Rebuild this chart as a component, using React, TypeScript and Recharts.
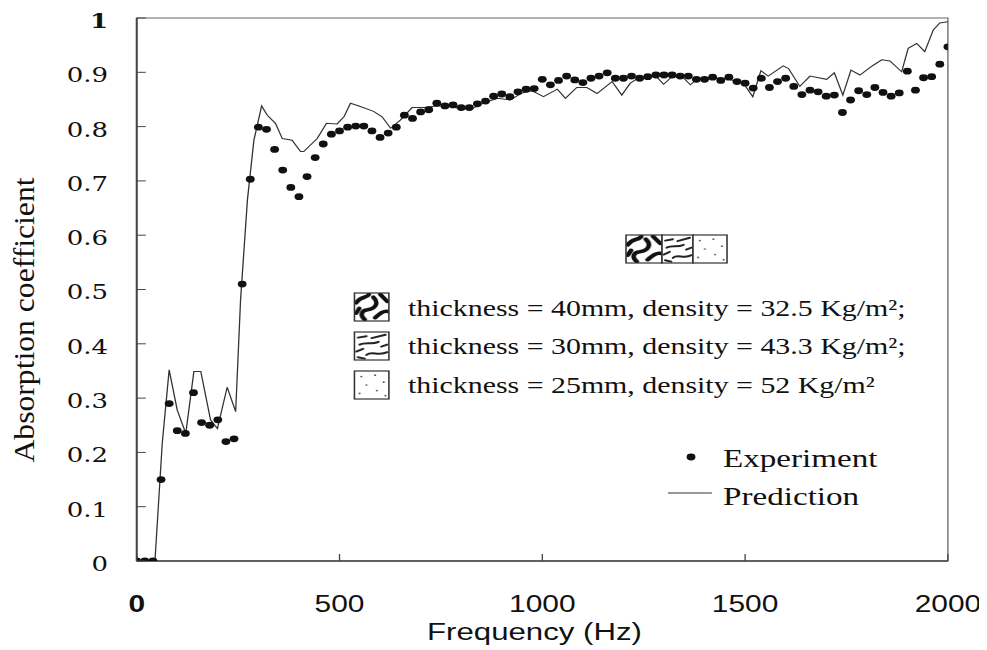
import React from 'react';
import { ComposedChart, XAxis, YAxis, Scatter, Line, ReferenceArea } from 'recharts';

// Experiment (measured) absorption coefficient, every 20 Hz
const EXP_FREQ = [
  0, 20, 40, 60, 80, 100, 120, 140, 160, 180, 200, 220, 240, 260, 280, 300, 320, 340, 360, 380,
  400, 420, 440, 460, 480, 500, 520, 540, 560, 580, 600, 620, 640, 660, 680, 700, 720, 740, 760, 780,
  800, 820, 840, 860, 880, 900, 920, 940, 960, 980, 1000, 1020, 1040, 1060, 1080, 1100, 1120, 1140, 1160, 1180,
  1200, 1220, 1240, 1260, 1280, 1300, 1320, 1340, 1360, 1380, 1400, 1420, 1440, 1460, 1480, 1500, 1520, 1540, 1560, 1580,
  1600, 1620, 1640, 1660, 1680, 1700, 1720, 1740, 1760, 1780, 1800, 1820, 1840, 1860, 1880, 1900, 1920, 1940, 1960, 1980,
  2000,
];
const EXP_VALUES = [
  0, 0, 0, 0.15, 0.29, 0.24, 0.235, 0.31, 0.255, 0.25, 0.26, 0.22, 0.225, 0.51, 0.703, 0.799, 0.795, 0.758, 0.72, 0.688,
  0.671, 0.708, 0.743, 0.768, 0.786, 0.792, 0.799, 0.801, 0.801, 0.792, 0.78, 0.788, 0.799, 0.821, 0.815, 0.827, 0.831, 0.843, 0.838, 0.84,
  0.835, 0.835, 0.842, 0.847, 0.856, 0.86, 0.855, 0.864, 0.869, 0.87, 0.887, 0.877, 0.885, 0.893, 0.886, 0.881, 0.889, 0.893, 0.899, 0.889,
  0.889, 0.893, 0.889, 0.892, 0.895, 0.895, 0.895, 0.893, 0.893, 0.887, 0.887, 0.891, 0.885, 0.891, 0.883, 0.88, 0.871, 0.889, 0.872, 0.883,
  0.889, 0.874, 0.859, 0.867, 0.864, 0.856, 0.858, 0.826, 0.849, 0.866, 0.859, 0.872, 0.863, 0.856, 0.862, 0.902, 0.867, 0.89, 0.892, 0.915,
  0.947,
];

// Prediction curve
const PRED_FREQ = [
  0, 45, 63, 80, 100, 121, 141, 158, 182, 199, 223, 244, 256, 273, 289, 308, 322, 342, 359, 383,
  404, 412, 424, 445, 468, 494, 511, 527, 548, 584, 605, 626, 650, 679, 708, 740, 773, 800, 830, 860,
  890, 921, 950, 975, 1003, 1037, 1057, 1085, 1110, 1135, 1172, 1196, 1217, 1240, 1280, 1299, 1320, 1345, 1365, 1385,
  1420, 1460, 1496, 1519, 1539, 1557, 1594, 1607, 1635, 1660, 1701, 1720, 1741, 1761, 1783, 1816, 1837, 1857, 1886, 1902,
  1923, 1943, 1964, 1980, 2000,
];
const PRED_VALUES = [
  0, 0, 0.217, 0.352, 0.278, 0.235, 0.349, 0.349, 0.26, 0.244, 0.32, 0.275, 0.48, 0.665, 0.775, 0.838, 0.821, 0.806, 0.778, 0.775,
  0.754, 0.754, 0.763, 0.778, 0.806, 0.805, 0.818, 0.843, 0.838, 0.828, 0.818, 0.797, 0.812, 0.835, 0.835, 0.838, 0.838, 0.832, 0.834, 0.845,
  0.852, 0.849, 0.862, 0.866, 0.855, 0.869, 0.852, 0.872, 0.872, 0.861, 0.883, 0.858, 0.88, 0.891, 0.893, 0.878, 0.892, 0.892, 0.877, 0.889,
  0.89, 0.887, 0.88, 0.855, 0.903, 0.893, 0.912, 0.907, 0.874, 0.893, 0.887, 0.899, 0.858, 0.904, 0.895, 0.913, 0.923, 0.921, 0.901, 0.944,
  0.953, 0.938, 0.978, 0.991, 0.993,
];

const X_TICKS = [0, 500, 1000, 1500, 2000];
const Y_TICKS = [0, 0.1, 0.2, 0.3, 0.4, 0.5, 0.6, 0.7, 0.8, 0.9, 1];
const Y_TICK_LABELS = ['0', '0.1', '0.2', '0.3', '0.4', '0.5', '0.6', '0.7', '0.8', '0.9', '1'];
const X_LABEL = 'Frequency (Hz)';
const Y_LABEL = 'Absorption coefficient';
const LEGEND_ROWS = [
  'thickness = 40mm, density = 32.5 Kg/m²;',
  'thickness = 30mm, density = 43.3 Kg/m²;',
  'thickness = 25mm, density = 52 Kg/m²',
];
const SERIES_NAMES = ['Experiment', 'Prediction'];

const expData = EXP_FREQ.map((f, i) => ({ f, v: EXP_VALUES[i] }));
const predData = PRED_FREQ.map((f, i) => ({ f, v: PRED_VALUES[i] }));

const SX = 1.3;
const W = 753;
const H = 642;
const SERIF = "'DejaVu Serif', 'Liberation Serif', serif";
const TIMES = "'Liberation Serif', 'Times New Roman', serif";
const SANS = "'Liberation Sans', Arial, sans-serif";

const XTick = (props: any) => {
  const { x, y, payload } = props;
  return (
    <g>
      <line x1={x} y1={y} x2={x} y2={y - 7} stroke="#444" strokeWidth={1} />
      <text x={x} y={y + 51} textAnchor="middle" fontFamily={SANS} fontSize={23} fill="#111"
        fontWeight={payload.value === 0 ? 'bold' : 'normal'}>
        {payload.value}
      </text>
    </g>
  );
};

const YTick = (props: any) => {
  const { x, y, payload } = props;
  const idx = Y_TICKS.indexOf(payload.value);
  const label = idx >= 0 ? Y_TICK_LABELS[idx] : String(payload.value);
  return (
    <g>
      <line x1={x} y1={y} x2={x + 7} y2={y} stroke="#444" strokeWidth={1} />
      <text x={x - 22} y={y + 10} textAnchor="end" fontFamily={SERIF} fontSize={20} fill="#111"
        fontWeight={label === '1' ? 'bold' : 'normal'}>
        {label}
      </text>
    </g>
  );
};

const ExpDot = (props: any) => {
  const { cx, cy } = props;
  if (cx == null || cy == null) return null;
  return <circle cx={cx} cy={cy} r={3.4} fill="#111" />;
};

const Swatch = ({ x, y, w, h, kind }: { x: number; y: number; w: number; h: number; kind: string }) => (
  <g>
    <rect x={x} y={y} width={w} height={h} fill={`url(#pat-${kind})`} stroke="#333" strokeWidth={1.2} />
  </g>
);

const Overlay = () => (
  <svg width={W} height={H} style={{ position: 'absolute', left: 0, top: 0, pointerEvents: 'none' }}>
    <defs>
      <pattern id="pat-zebra" patternUnits="objectBoundingBox" patternContentUnits="objectBoundingBox" width={1} height={1}>
        <rect x={0} y={0} width={1} height={1} fill="#fff" />
        <g fill="none" stroke="#111" strokeWidth={0.13} strokeLinecap="round">
          <path d="M0.05,0.35 C0.2,0.1 0.35,0.2 0.42,0.05" />
          <path d="M0.55,0.15 C0.72,0.35 0.62,0.55 0.38,0.6 C0.2,0.62 0.15,0.8 0.3,0.95" />
          <path d="M0.75,0.05 L0.95,0.3" />
          <path d="M0.6,0.88 C0.75,0.72 0.85,0.62 0.98,0.66" />
          <path d="M0.05,0.72 L0.14,0.55" />
        </g>
      </pattern>
      <pattern id="pat-scribble" patternUnits="objectBoundingBox" patternContentUnits="objectBoundingBox" width={1} height={1}>
        <rect x={0} y={0} width={1} height={1} fill="#fff" />
        <g fill="none" stroke="#222" strokeWidth={0.07} strokeLinecap="round">
          <path d="M0.1,0.2 L0.35,0.15" />
          <path d="M0.5,0.22 L0.9,0.1" />
          <path d="M0.15,0.45 C0.3,0.35 0.5,0.45 0.7,0.35" />
          <path d="M0.05,0.7 L0.25,0.6" />
          <path d="M0.35,0.82 C0.5,0.65 0.7,0.88 0.95,0.72" />
          <path d="M0.78,0.52 L0.95,0.45" />
          <path d="M0.1,0.9 L0.3,0.95" />
        </g>
      </pattern>
      <pattern id="pat-dots" patternUnits="objectBoundingBox" patternContentUnits="objectBoundingBox" width={1} height={1}>
        <rect x={0} y={0} width={1} height={1} fill="#fff" />
        <g fill="#555">
          <circle cx={0.2} cy={0.2} r={0.03} />
          <circle cx={0.6} cy={0.15} r={0.03} />
          <circle cx={0.85} cy={0.4} r={0.03} />
          <circle cx={0.35} cy={0.5} r={0.03} />
          <circle cx={0.15} cy={0.8} r={0.03} />
          <circle cx={0.65} cy={0.7} r={0.03} />
          <circle cx={0.9} cy={0.88} r={0.03} />
        </g>
      </pattern>
    </defs>

    {/* axis titles */}
    <text x={405} y={632} textAnchor="middle" fontFamily={SANS} fontSize={24} fill="#111">{X_LABEL}</text>
    <text transform="translate(13,312) rotate(-90)" x={0} y={0} textAnchor="middle" dominantBaseline="central"
      fontFamily={TIMES} fontSize={22} fill="#111"
      textLength={285} lengthAdjust="spacingAndGlyphs">{Y_LABEL}</text>

    {/* top swatch group */}
    <Swatch x={475.4} y={227} w={27.7} h={28} kind="zebra" />
    <Swatch x={503.1} y={227} w={23.8} h={28} kind="scribble" />
    <Swatch x={526.9} y={227} w={26.2} h={28} kind="dots" />

    {/* material rows */}
    {LEGEND_ROWS.map((t, i) => (
      <g key={t}>
        <Swatch x={266.5} y={285 + i * 39} w={26.5} h={28} kind={['zebra', 'scribble', 'dots'][i]} />
        <text x={307.7} y={308 + i * 38.5} fontFamily={TIMES} fontSize={23} fill="#111">{t}</text>
      </g>
    ))}

    {/* series legend */}
    <circle cx={525.4} cy={449} r={3.4} fill="#111" />
    <text x={550} y={459} fontFamily={TIMES} fontSize={25.5} fill="#111">{SERIES_NAMES[0]}</text>
    <line x1={507.7} y1={485} x2={541.5} y2={485} stroke="#333" strokeWidth={1} />
    <text x={550} y={497} fontFamily={TIMES} fontSize={25.5} fill="#111">{SERIES_NAMES[1]}</text>
  </svg>
);

export default function App() {
  return (
    <div style={{ position: 'relative', width: W, height: H, transform: `scaleX(${SX})`, transformOrigin: '0 0' }}>
      <ComposedChart width={W} height={H} margin={{ top: 10, right: 30, bottom: 29, left: 1 }}>
        <XAxis dataKey="f" type="number" domain={[0, 2000]} ticks={X_TICKS} allowDataOverflow
          height={60} tickLine={false} tickSize={0} tickMargin={0} tick={<XTick />}
          axisLine={{ stroke: '#444', strokeWidth: 1.5 }} />
        <YAxis dataKey="v" type="number" domain={[0, 1]} ticks={Y_TICKS} allowDataOverflow
          width={98} tickLine={false} tickSize={0} tickMargin={0} tick={<YTick />}
          axisLine={{ stroke: '#444', strokeWidth: 1.5 }} />
        <ReferenceArea x1={0} x2={2000} y1={0} y2={1} fill="none" fillOpacity={0} stroke="#666" strokeWidth={1} ifOverflow="visible" />
        <Line data={predData} dataKey="v" type="linear" stroke="#333" strokeWidth={1} dot={false} activeDot={false} isAnimationActive={false} />
        <Scatter data={expData} dataKey="v" fill="#111" shape={<ExpDot />} isAnimationActive={false} />
      </ComposedChart>
      <Overlay />
    </div>
  );
}
